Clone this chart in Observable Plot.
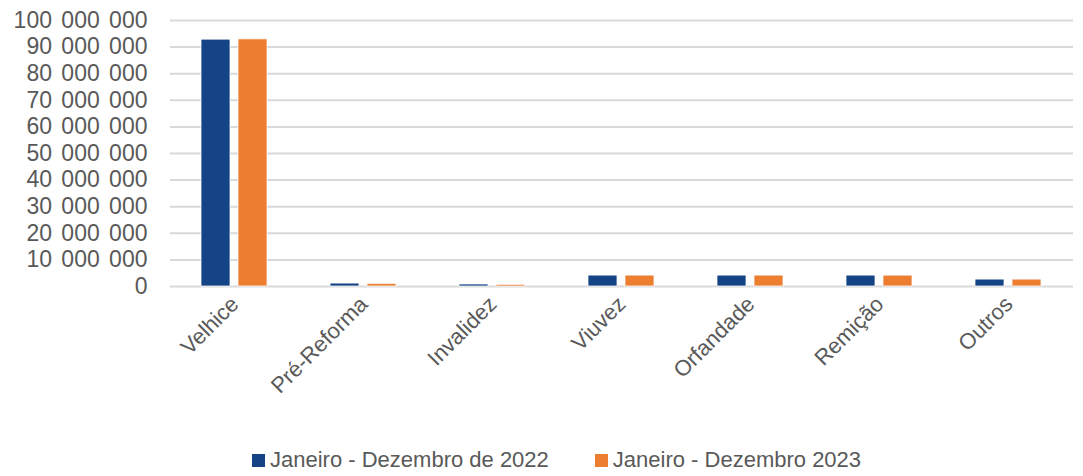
<!DOCTYPE html>
<html>
<head>
<meta charset="utf-8">
<script src="https://cdn.jsdelivr.net/npm/d3@7"></script>
<script src="https://cdn.jsdelivr.net/npm/@observablehq/plot@0.6"></script>
<style>
  body { margin: 0; background: #fff; font-family: "Liberation Sans", Arial, sans-serif; }
  #chart svg { overflow: visible; }
  .ytick text { word-spacing: 3px; }
  #legend { display: flex; align-items: center; height: 24px; margin-top: 12px; padding-left: 252px;
            font-size: 22px; color: #595959; }
  #legend .item { display: flex; align-items: center; margin-right: 46px; }
  #legend .sw { width: 13px; height: 13px; margin-right: 5px; }
</style>
</head>
<body>
<div id="chart"></div>
<div id="legend"></div>
<script>
const categories = ["Velhice", "Pré-Reforma", "Invalidez", "Viuvez", "Orfandade", "Remição", "Outros"];
const series = ["Janeiro - Dezembro de 2022", "Janeiro - Dezembro 2023"];
const values2022 = [92800000, 1100000, 750000, 4100000, 4100000, 4100000, 2600000];
const values2023 = [92900000, 1000000, 650000, 4100000, 4100000, 4100000, 2600000];
const colors = ["#154486", "#ed7d31"];
const yTicks = d3.range(0, 100000001, 10000000);

const data = [];
categories.forEach((c, i) => {
  data.push({category: c, series: series[0], value: values2022[i]});
  data.push({category: c, series: series[1], value: values2023[i]});
});

const fmt = d3.formatLocale({thousands: " ", grouping: [3], decimal: ","}).format(",d");

const chart = Plot.plot({
  width: 1083,
  height: 436,
  marginTop: 20,
  marginBottom: 150,
  marginLeft: 168,
  marginRight: 8,
  style: {fontFamily: "'Liberation Sans', Arial, sans-serif", fontSize: "22px", color: "#595959", background: "#fff"},
  fx: {domain: categories, padding: 0, label: null, axis: null},
  x: {domain: series, paddingInner: 0.21, paddingOuter: 0.84, axis: null},
  y: {domain: [0, 100000000], label: null},
  color: {domain: series, range: colors},
  marks: [
    Plot.gridY(yTicks, {stroke: "#d9d9d9", strokeOpacity: 1, strokeWidth: 2}),
    Plot.axisY(yTicks, {tickSize: 0, tickPadding: 23, tickFormat: fmt, label: null, fill: "#595959", fontSize: 23, className: "ytick"}),
    Plot.axisFx({anchor: "bottom", tickRotate: -45, tickSize: 0, tickPadding: 14, label: null, fill: "#595959", fontSize: 22}),
    Plot.barY(data, {fx: "category", x: "series", y: "value", fill: "series", stroke: "white", strokeWidth: 0.75})
  ]
});
document.getElementById("chart").appendChild(chart);

const legend = document.getElementById("legend");
series.forEach((s, i) => {
  const item = document.createElement("div");
  item.className = "item";
  const sw = document.createElement("span");
  sw.className = "sw";
  sw.style.background = colors[i];
  const t = document.createElement("span");
  t.textContent = s;
  item.appendChild(sw);
  item.appendChild(t);
  legend.appendChild(item);
});
</script>
</body>
</html>
